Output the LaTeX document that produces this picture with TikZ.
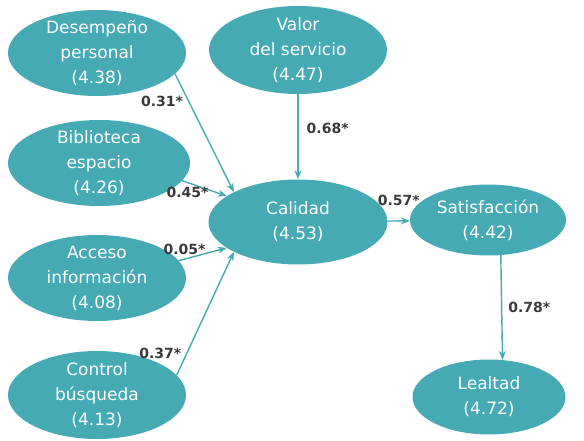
\documentclass[tikz,border=0pt]{standalone}
\usepackage{fontspec}
\setmainfont{DejaVu Sans}
\usetikzlibrary{shapes,arrows,arrows.meta}
\usetikzlibrary{positioning}
\definecolor{tealvar}{HTML}{45AAB3}
\definecolor{coefgray}{HTML}{3A3A3A}
\tikzstyle{var} = [ellipse, fill=tealvar, text=white, align=center,
    inner xsep=0pt, inner ysep=-6pt, minimum width=178pt, minimum height=86pt,
    font=\fontsize{17}{25}\selectfont]
\tikzstyle{coef} = [text=coefgray, inner sep=1pt,
    font=\fontsize{14}{14}\selectfont\bfseries]
\tikzstyle{line} = [draw=tealvar, line width=1.4pt,
    -{Stealth[length=9pt,width=7pt]}]

\begin{document}
\begin{tikzpicture}[node distance = 110pt]
  \useasboundingbox (0,0) rectangle (584pt,-441pt);
  % Place nodes
  \node [var] (desempeno) at (97pt,-53pt) {Desempeño\\personal\\(4.38)};
  \node [var, below of=desempeno, minimum width=182pt, xshift=2pt] (biblioteca)
  {Biblioteca\\espacio\\(4.26)};
  \node [var, below of=biblioteca, node distance=115pt, xshift=-2pt] (acceso)
  {Acceso\\información\\(4.08)};
  \node [var, below of=acceso, node distance=117pt, minimum height=88pt] (control)
  {Control\\búsqueda\\(4.13)};
  \node [var, right of=desempeno, node distance=201pt, yshift=3pt,
  minimum height=88pt] (valor)
  {Valor\\del servicio\\(4.47)};
  \node [var, below of=valor, node distance=172pt, minimum width=179pt,
  minimum height=85pt] (calidad) {Calidad\\(4.53)};
  \node [var, right of=calidad, node distance=190pt, yshift=2pt,
  minimum width=156pt, minimum height=71pt] (satisfaccion)
  {Satisfacción\\(4.42)};
  \node [var, below of=satisfaccion, node distance=177pt, xshift=1pt,
  minimum width=153pt, minimum height=75pt] (lealtad) {Lealtad\\(4.72)};
  % Draw edges
  \draw [line] (desempeno.-15) -- node[coef, pos=0.23, left=4pt] (w1) {0.31*}
  (calidad.155);
  \draw [line] (biblioteca.-12) -- node[coef, pos=0.12, below=3pt] (w2) {0.45*}
  (calidad.160);
  \draw [line] (acceso.12) -- node[coef, pos=0.12, above=3pt] (w3) {0.05*}
  (calidad.200);
  \draw [line] (control.14) -- node[coef, pos=0.18, left=4pt] (w4) {0.37*}
  (calidad.205);
  \draw [line] (valor) -- node[coef, pos=0.4, right=7pt] (w5) {0.68*}
  (calidad);
  \draw [line] (calidad) -- node[coef, midway, above=14pt] (w6) {0.57*}
  (satisfaccion);
  \draw [line] (satisfaccion.-70) -- node[coef, midway, right=5pt] (w7) {0.78*}
  (lealtad.70);
\end{tikzpicture}
\end{document}
